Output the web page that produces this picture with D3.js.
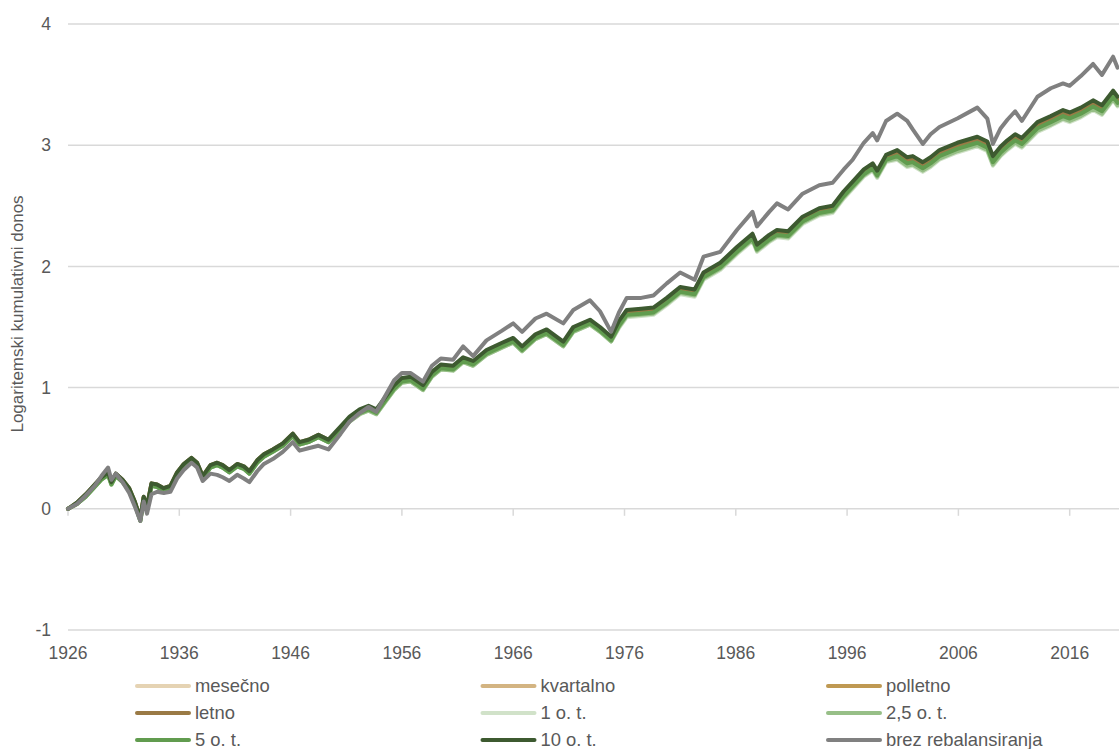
<!DOCTYPE html>
<html>
<head>
<meta charset="utf-8">
<script src="https://cdn.jsdelivr.net/npm/d3@7/dist/d3.min.js"></script>
<style>
  body { margin: 0; background: #fff; }
  text { font-family: "Liberation Sans", Arial, sans-serif; fill: #595959; }
</style>
</head>
<body>
<svg width="1119" height="749"></svg>
<script>
// dates (decimal years) shared by all series
const years = [1926.0,1926.8,1927.6,1928.4,1929.0,1929.6,1929.9,1930.3,1930.9,1931.5,1932.0,1932.5,1932.8,1933.1,1933.5,1934.0,1934.6,1935.2,1935.8,1936.4,1937.1,1937.6,1938.1,1938.8,1939.4,1939.9,1940.5,1941.2,1941.8,1942.3,1943.0,1943.6,1944.4,1945.3,1946.2,1946.8,1947.6,1948.5,1949.4,
  1950.5,1951.3,1952.2,1953.0,1953.7,1954.5,1955.3,1956.0,1956.8,1957.9,1958.7,1959.5,1960.6,1961.5,1962.4,1963.6,1965.0,1966.0,1966.8,1968.0,1969.0,1970.5,1971.4,1972.9,1973.8,1974.8,
  1975.5,1976.2,1977.5,1978.6,1979.8,1981.0,1982.3,1983.1,1984.6,1986.1,1987.5,1987.9,1989.0,1989.7,1990.7,1992.0,1993.5,1994.7,1995.7,1996.5,1997.5,1998.3,1998.7,1999.5,
  2000.5,2001.4,2001.9,2002.8,2003.5,2004.3,2005.9,2007.7,2008.6,2009.1,2009.8,2010.4,2011.1,2011.7,2013.1,2014.3,2015.4,2016.0,2017.0,2018.1,2018.9,2019.9,2020.3];

const mesecno = [0.00,0.04,0.11,0.19,0.25,0.29,0.21,0.28,0.23,0.16,0.05,-0.09,0.09,0.01,0.20,0.19,0.16,0.18,0.29,0.36,0.41,0.37,0.26,0.35,0.37,0.35,0.31,0.36,0.34,0.30,0.39,0.44,0.48,0.53,0.61,0.54,0.56,0.60,0.56,
  0.65,0.73,0.79,0.82,0.79,0.89,0.99,1.05,1.06,0.99,1.10,1.16,1.15,1.22,1.19,1.28,1.34,1.38,1.31,1.41,1.45,1.35,1.47,1.53,1.47,1.39,
  1.51,1.60,1.61,1.62,1.70,1.79,1.77,1.91,1.99,2.12,2.23,2.14,2.22,2.26,2.25,2.37,2.44,2.46,2.58,2.66,2.76,2.81,2.75,2.88,
  2.91,2.85,2.86,2.81,2.85,2.91,2.97,3.02,2.98,2.86,2.94,2.99,3.04,3.01,3.14,3.19,3.24,3.22,3.26,3.32,3.28,3.40,3.35];

const kvartalno = [0.00,0.04,0.11,0.19,0.25,0.29,0.21,0.28,0.23,0.16,0.05,-0.09,0.09,0.01,0.20,0.19,0.16,0.18,0.29,0.36,0.41,0.37,0.26,0.35,0.37,0.35,0.31,0.36,0.34,0.30,0.39,0.44,0.48,0.53,0.61,0.54,0.56,0.60,0.56,
  0.66,0.74,0.80,0.83,0.80,0.90,1.00,1.06,1.07,1.00,1.11,1.17,1.16,1.23,1.20,1.29,1.35,1.39,1.32,1.42,1.46,1.36,1.48,1.54,1.48,1.40,
  1.52,1.61,1.62,1.63,1.71,1.80,1.78,1.92,2.00,2.13,2.24,2.15,2.23,2.27,2.26,2.38,2.45,2.47,2.59,2.67,2.77,2.82,2.76,2.89,
  2.92,2.86,2.87,2.82,2.86,2.92,2.98,3.03,2.99,2.87,2.95,3.00,3.05,3.02,3.15,3.20,3.25,3.23,3.27,3.33,3.29,3.41,3.36];

const polletno = [0.00,0.04,0.11,0.19,0.25,0.29,0.21,0.28,0.23,0.16,0.05,-0.09,0.09,0.01,0.20,0.19,0.16,0.18,0.29,0.36,0.41,0.37,0.26,0.35,0.37,0.35,0.31,0.36,0.34,0.30,0.39,0.44,0.48,0.53,0.61,0.54,0.56,0.60,0.56,
  0.66,0.74,0.80,0.83,0.80,0.90,1.00,1.06,1.07,1.00,1.11,1.17,1.16,1.23,1.20,1.29,1.35,1.39,1.32,1.42,1.46,1.36,1.48,1.54,1.48,1.40,
  1.53,1.62,1.63,1.64,1.72,1.81,1.79,1.93,2.01,2.14,2.25,2.16,2.24,2.28,2.27,2.39,2.46,2.48,2.60,2.68,2.78,2.83,2.77,2.90,
  2.93,2.87,2.88,2.83,2.87,2.93,2.99,3.04,3.00,2.88,2.96,3.01,3.06,3.03,3.16,3.21,3.26,3.24,3.28,3.34,3.30,3.42,3.37];

const letno = [0.00,0.05,0.12,0.20,0.26,0.30,0.22,0.29,0.24,0.17,0.06,-0.08,0.10,0.02,0.21,0.20,0.17,0.19,0.30,0.37,0.42,0.38,0.27,0.36,0.38,0.36,0.32,0.37,0.35,0.31,0.40,0.45,0.49,0.54,0.62,0.55,0.57,0.61,0.57,
  0.66,0.74,0.80,0.83,0.80,0.90,1.00,1.06,1.07,1.00,1.11,1.17,1.16,1.23,1.20,1.29,1.35,1.39,1.32,1.42,1.46,1.36,1.48,1.54,1.48,1.40,
  1.53,1.62,1.63,1.64,1.72,1.81,1.79,1.93,2.01,2.14,2.25,2.16,2.24,2.28,2.27,2.39,2.46,2.48,2.60,2.68,2.78,2.83,2.77,2.90,
  2.93,2.87,2.88,2.83,2.87,2.93,2.99,3.04,3.00,2.88,2.96,3.01,3.06,3.03,3.16,3.21,3.26,3.24,3.28,3.34,3.30,3.42,3.37];

const ot1 = [0.00,0.04,0.10,0.18,0.24,0.28,0.20,0.27,0.22,0.15,0.04,-0.10,0.08,0.00,0.19,0.18,0.15,0.17,0.28,0.35,0.40,0.36,0.25,0.34,0.36,0.34,0.30,0.35,0.33,0.29,0.38,0.43,0.47,0.52,0.60,0.53,0.55,0.59,0.55,
  0.64,0.72,0.78,0.81,0.78,0.88,0.98,1.04,1.05,0.98,1.09,1.15,1.14,1.21,1.18,1.27,1.33,1.37,1.30,1.40,1.44,1.34,1.46,1.52,1.46,1.38,
  1.49,1.58,1.59,1.60,1.68,1.77,1.75,1.89,1.97,2.10,2.21,2.12,2.20,2.24,2.23,2.35,2.42,2.44,2.56,2.64,2.74,2.79,2.73,2.86,
  2.88,2.82,2.83,2.78,2.82,2.88,2.94,2.99,2.95,2.83,2.91,2.96,3.01,2.98,3.11,3.16,3.21,3.19,3.23,3.29,3.25,3.37,3.32];

const ot25 = [0.00,0.04,0.10,0.18,0.24,0.28,0.20,0.27,0.22,0.15,0.04,-0.10,0.08,0.00,0.19,0.18,0.15,0.17,0.28,0.35,0.40,0.36,0.25,0.34,0.36,0.34,0.30,0.35,0.33,0.29,0.38,0.43,0.47,0.52,0.60,0.53,0.55,0.59,0.55,
  0.64,0.72,0.78,0.81,0.78,0.88,0.98,1.04,1.05,0.98,1.09,1.15,1.14,1.21,1.18,1.27,1.33,1.37,1.30,1.40,1.44,1.34,1.46,1.52,1.46,1.38,
  1.50,1.59,1.60,1.61,1.69,1.78,1.76,1.90,1.98,2.11,2.22,2.13,2.21,2.25,2.24,2.36,2.43,2.45,2.57,2.65,2.75,2.80,2.74,2.87,
  2.89,2.83,2.84,2.79,2.83,2.89,2.95,3.00,2.96,2.84,2.92,2.97,3.02,2.99,3.12,3.17,3.22,3.20,3.24,3.30,3.26,3.38,3.33];

const ot5 = [0.00,0.04,0.10,0.18,0.24,0.28,0.20,0.27,0.22,0.15,0.04,-0.10,0.08,0.00,0.19,0.18,0.15,0.17,0.28,0.35,0.40,0.36,0.25,0.34,0.36,0.34,0.30,0.35,0.33,0.29,0.38,0.43,0.47,0.52,0.60,0.53,0.55,0.59,0.55,
  0.65,0.73,0.79,0.82,0.79,0.89,0.99,1.05,1.06,0.99,1.10,1.16,1.15,1.22,1.19,1.28,1.34,1.38,1.31,1.41,1.45,1.35,1.47,1.53,1.47,1.39,
  1.51,1.60,1.61,1.62,1.70,1.79,1.77,1.91,1.99,2.12,2.23,2.14,2.22,2.26,2.25,2.37,2.44,2.46,2.58,2.66,2.76,2.81,2.75,2.88,
  2.91,2.85,2.86,2.81,2.85,2.91,2.97,3.02,2.98,2.86,2.94,2.99,3.04,3.01,3.14,3.19,3.24,3.22,3.26,3.32,3.28,3.40,3.35];

const ot10 = [0.00,0.05,0.12,0.20,0.26,0.30,0.22,0.29,0.24,0.17,0.06,-0.08,0.10,0.02,0.21,0.20,0.17,0.19,0.30,0.37,0.42,0.38,0.27,0.36,0.38,0.36,0.32,0.37,0.35,0.31,0.40,0.45,0.49,0.54,0.62,0.55,0.57,0.61,0.57,
  0.68,0.76,0.82,0.85,0.82,0.92,1.02,1.08,1.09,1.02,1.13,1.19,1.18,1.25,1.22,1.31,1.37,1.41,1.34,1.44,1.48,1.38,1.50,1.56,1.50,1.42,
  1.55,1.64,1.65,1.66,1.74,1.83,1.81,1.95,2.03,2.16,2.27,2.18,2.26,2.30,2.29,2.41,2.48,2.50,2.62,2.70,2.80,2.85,2.79,2.92,
  2.96,2.90,2.91,2.86,2.90,2.96,3.02,3.07,3.03,2.91,2.99,3.04,3.09,3.06,3.19,3.24,3.29,3.27,3.31,3.37,3.33,3.45,3.40];

const brez = [0.00,0.04,0.11,0.19,0.27,0.34,0.24,0.29,0.22,0.13,0.02,-0.10,0.06,-0.04,0.12,0.14,0.13,0.14,0.25,0.32,0.38,0.34,0.23,0.29,0.28,0.26,0.23,0.28,0.25,0.22,0.31,0.37,0.41,0.47,0.55,0.48,0.50,0.52,0.49,
  0.62,0.72,0.79,0.84,0.80,0.93,1.06,1.12,1.12,1.05,1.18,1.24,1.23,1.34,1.26,1.39,1.47,1.53,1.46,1.57,1.61,1.53,1.64,1.72,1.63,1.46,
  1.62,1.74,1.74,1.76,1.86,1.95,1.89,2.08,2.12,2.30,2.45,2.33,2.45,2.52,2.47,2.60,2.67,2.69,2.80,2.88,3.02,3.10,3.04,3.20,
  3.26,3.20,3.13,3.01,3.09,3.15,3.22,3.31,3.22,3.01,3.14,3.21,3.28,3.20,3.40,3.47,3.51,3.49,3.57,3.67,3.58,3.73,3.64];

const seriesNames = ["mesečno", "kvartalno", "polletno", "letno", "1 o. t.", "2,5 o. t.", "5 o. t.", "10 o. t.", "brez rebalansiranja"];
const seriesValues = [mesecno, kvartalno, polletno, letno, ot1, ot25, ot5, ot10, brez];
const seriesColors = ["#e5d3b3", "#d3b482", "#bf9952", "#9a7a45", "#d1e2c9", "#97bf87", "#619c4f", "#3d5a30", "#808080"];

const xTicks = [1926, 1936, 1946, 1956, 1966, 1976, 1986, 1996, 2006, 2016];
const yTicks = [-1, 0, 1, 2, 3, 4];

const svg = d3.select("svg");

const x = d3.scaleLinear().domain([1926, 2020.43]).range([68, 1119]);
const y = d3.scaleLinear().domain([-1, 4]).range([630, 24]);

// gridlines
svg.append("g")
  .selectAll("line")
  .data(yTicks)
  .enter()
  .append("line")
  .attr("x1", 68)
  .attr("x2", 1119)
  .attr("y1", d => y(d))
  .attr("y2", d => y(d))
  .style("stroke", "#d9d9d9")
  .style("stroke-width", 1.5);

// y labels
svg.append("g")
  .selectAll("text")
  .data(yTicks)
  .enter()
  .append("text")
  .attr("x", 51)
  .attr("y", d => y(d))
  .attr("dy", "0.35em")
  .attr("text-anchor", "end")
  .style("font-size", "17.5px")
  .text(d => d);

// x ticks sit on the zero line
svg.append("g")
  .selectAll("line")
  .data(xTicks)
  .enter()
  .append("line")
  .attr("x1", d => x(d))
  .attr("x2", d => x(d))
  .attr("y1", y(0))
  .attr("y2", y(0) + 7)
  .style("stroke", "#d9d9d9")
  .style("stroke-width", 1.5);

svg.append("g")
  .selectAll("text")
  .data(xTicks)
  .enter()
  .append("text")
  .attr("x", d => x(d))
  .attr("y", 659)
  .attr("text-anchor", "middle")
  .style("font-size", "17.5px")
  .text(d => d);

// axis title
svg.append("text")
  .attr("transform", "translate(23,314) rotate(-90)")
  .attr("text-anchor", "middle")
  .style("font-size", "17px")
  .text("Logaritemski kumulativni donos");

// lines
const line = d3.line()
  .x((d, i) => x(years[i]))
  .y(d => y(d));

svg.append("g")
  .selectAll("path")
  .data(seriesValues)
  .enter()
  .append("path")
  .attr("d", line)
  .attr("fill", "none")
  .attr("stroke", (d, i) => seriesColors[i])
  .attr("stroke-width", 4)
  .attr("stroke-linejoin", "round")
  .attr("stroke-linecap", "round");

// legend, 3 columns
const legend = svg.append("g")
  .selectAll("g")
  .data(seriesNames)
  .enter()
  .append("g")
  .attr("transform", (d, i) => `translate(${137 + (i % 3) * 345.5},${686 + Math.floor(i / 3) * 27})`);

legend.append("line")
  .attr("x1", 0)
  .attr("x2", 52)
  .style("stroke", (d, i) => seriesColors[i])
  .style("stroke-width", 4)
  .style("stroke-linecap", "round");

legend.append("text")
  .attr("x", 58)
  .attr("dy", "0.35em")
  .style("font-size", "18.4px")
  .text(d => d);
</script>
</body>
</html>
